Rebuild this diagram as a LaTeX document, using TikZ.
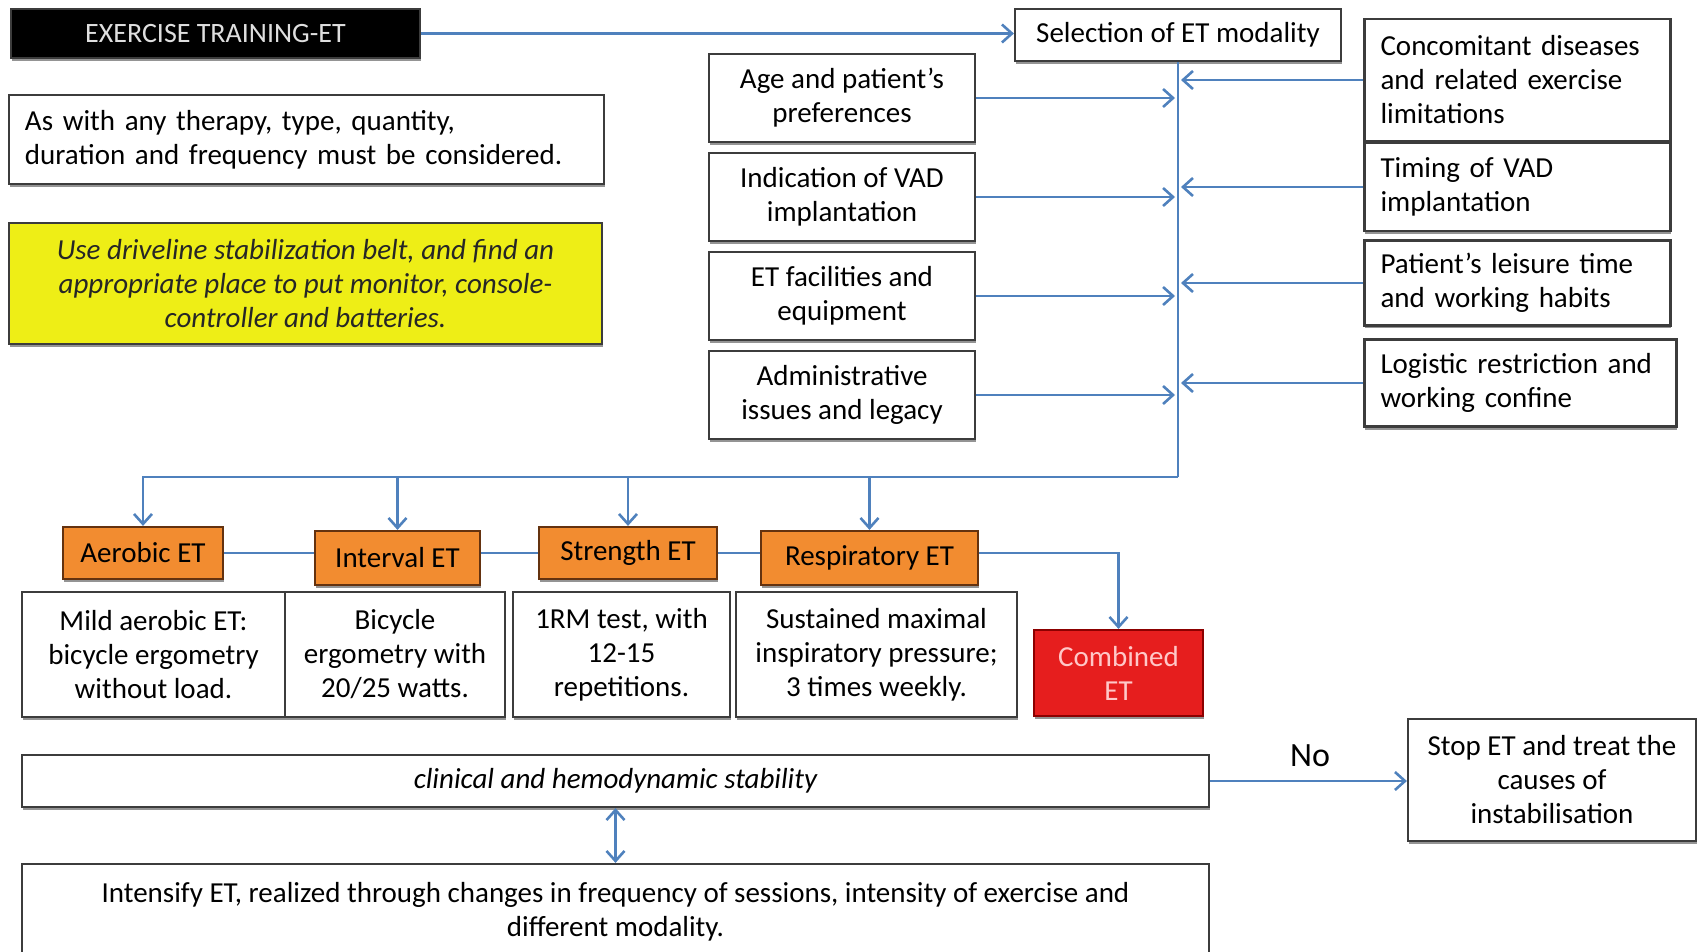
\documentclass[tikz,border=0pt]{standalone}
\usepackage{fontspec}
\setmainfont{Carlito}
\usetikzlibrary{arrows.meta,positioning,shadows}
\pgfdeclarelayer{background}
\pgfsetlayers{background,main}
\definecolor{flowblue}{RGB}{79,129,189}
\definecolor{boxgray}{RGB}{60,60,60}
\definecolor{etorange}{RGB}{242,140,48}
\definecolor{etbrown}{RGB}{100,50,15}
\definecolor{combred}{RGB}{230,30,30}
\definecolor{combtext}{RGB}{255,200,200}
\definecolor{beltyellow}{RGB}{238,238,22}

\begin{document}
\begin{tikzpicture}[x=0.5pt, y=-0.5pt]
\tikzstyle{box}=[draw=boxgray, line width=1.1pt, fill=white, align=center, inner sep=2pt,
  font=\fontsize{14.5}{17}\selectfont,
  drop shadow={shadow xshift=0.3pt, shadow yshift=-1.5pt, fill=black!70, opacity=0.6}]
\tikzstyle{lbox}=[box, minimum width=133pt, minimum height=44pt, node distance=49.5pt]
\tikzstyle{rbox}=[box, align=left, text width=137pt, inner xsep=8pt]
\tikzstyle{etbox}=[box, draw=etbrown, fill=etorange, minimum height=26pt]
\tikzstyle{dbox}=[box, minimum height=62.5pt]
\tikzstyle{flow}=[draw=flowblue, line width=1.4pt,
  >={Straight Barb[length=5pt, width=9pt, line width=1.3pt]}]
\useasboundingbox (0,0) rectangle (1698,952);

	% heading and notes
	\node[box, fill=black, text=gray!25, minimum width=204.5pt, minimum height=24.5pt,
	  font=\fontsize{14}{16}\selectfont] (et) at (215.5,33.5) {EXERCISE TRAINING-ET};
	\node[box, minimum width=163pt, minimum height=26pt] (sel) at (1178,35) {Selection of ET modality};
	\node[box, align=left, text width=281.5pt, inner xsep=8pt, minimum height=44.5pt] (note) at (306.5,139.5)
	  {As with any therapy, type, quantity,\\duration and frequency must be considered.};
	\node[box, fill=beltyellow, text=black!85, minimum width=296.5pt, minimum height=60.5pt,
	  font=\fontsize{14.5}{17}\selectfont\itshape] (belt) at (305.5,283.5)
	  {Use driveline stabilization belt, and find an\\appropriate place to put monitor, console-\\controller and batteries.};

	% factors on the left
	\node[lbox] (age) at (842,98) {Age and patient's\\preferences};
	\node[lbox, below of=age] (vad) {Indication of VAD\\implantation};
	\node[lbox, below of=vad] (facil) {ET facilities and\\equipment};
	\node[lbox, below of=facil] (admin) {Administrative\\issues and legacy};

	% factors on the right
	\node[rbox, minimum height=61pt] (concom) at (1517.5,80) {Concomitant diseases\\and related exercise\\limitations};
	\node[rbox, minimum height=44pt] (timing) at (1517.5,187) {Timing of VAD\\implantation};
	\node[rbox, minimum height=42.5pt] (leisure) at (1517.5,283) {Patient's leisure time\\and working habits};
	\node[rbox, text width=140pt, minimum height=43.5pt] (logistic) at (1520.5,383) {Logistic restriction and\\working confine};

	% modalities
	\node[etbox, minimum width=80pt] (aero) at (143,553) {Aerobic ET};
	\node[etbox, minimum width=82.5pt, minimum height=27pt] (intv) at (397.5,558) {Interval ET};
	\node[etbox, minimum width=89pt] (stren) at (628,553) {Strength ET};
	\node[etbox, minimum width=108.5pt, minimum height=27pt] (resp) at (869.5,558) {Respiratory ET};

	\node[dbox, minimum width=131.5pt] (mild) at (153.5,654.5) {Mild aerobic ET:\\bicycle ergometry\\without load.};
	\node[dbox, minimum width=110pt] (bike) at (395,654.5) {Bicycle\\ergometry with\\20/25 watts.};
	\node[dbox, minimum width=108.5pt] (rm) at (621.5,654.5) {1RM test, with\\12-15\\repetitions.};
	\node[dbox, minimum width=140.5pt] (insp) at (876.5,654.5) {Sustained maximal\\inspiratory pressure;\\3 times weekly.};
	\node[box, draw=red!55!black, fill=combred, text=combtext, minimum width=84.5pt, minimum height=43pt] (comb) at (1118.5,673) {Combined\\ET};

	% stability check
	\node[box, minimum width=593.5pt, minimum height=26pt, font=\fontsize{14.5}{17}\selectfont\itshape] (stab) at (615.5,781) {clinical and hemodynamic stability};
	\node[box, minimum width=144pt, minimum height=61pt] (stop) at (1552,780) {Stop ET and treat the\\causes of\\instabilisation};
	\node[box, minimum width=593.5pt, minimum height=48pt] (intens) at (615.5,912)
	  {Intensify ET, realized through changes in frequency of sessions, intensity of exercise and\\different modality.};
	\node[font=\fontsize{17}{20}\selectfont] (no) at (1310,756) {No};

	\coordinate (bend) at (1178,477);

	\draw[flow,->] (et.east) -- (et.east -| sel.west);
	\draw[flow] (sel.south) -- (bend);
	\foreach \n in {age,vad,facil,admin}
	  \draw[flow,->,shorten >=1.5pt] (\n.east) -- (\n.east -| sel.south);
	\foreach \n in {concom,timing,leisure,logistic}
	  \draw[flow,->,shorten >=1.5pt] (\n.west) -- (\n.west -| sel.south);
	\draw[flow,->] (bend) -| (aero.north);
	\foreach \n in {intv,stren,resp}
	  \draw[flow,->] (bend -| \n.north) -- (\n.north);
	\begin{pgfonlayer}{background}
	  \draw[flow,->] (aero.east) -- (aero.east -| comb.north) -- (comb.north);
	\end{pgfonlayer}
	\draw[flow,->] (stab.east) -- (stab.east -| stop.west);
	\draw[flow,<->] (stab.south) -- (intens.north);
\end{tikzpicture}
\end{document}
